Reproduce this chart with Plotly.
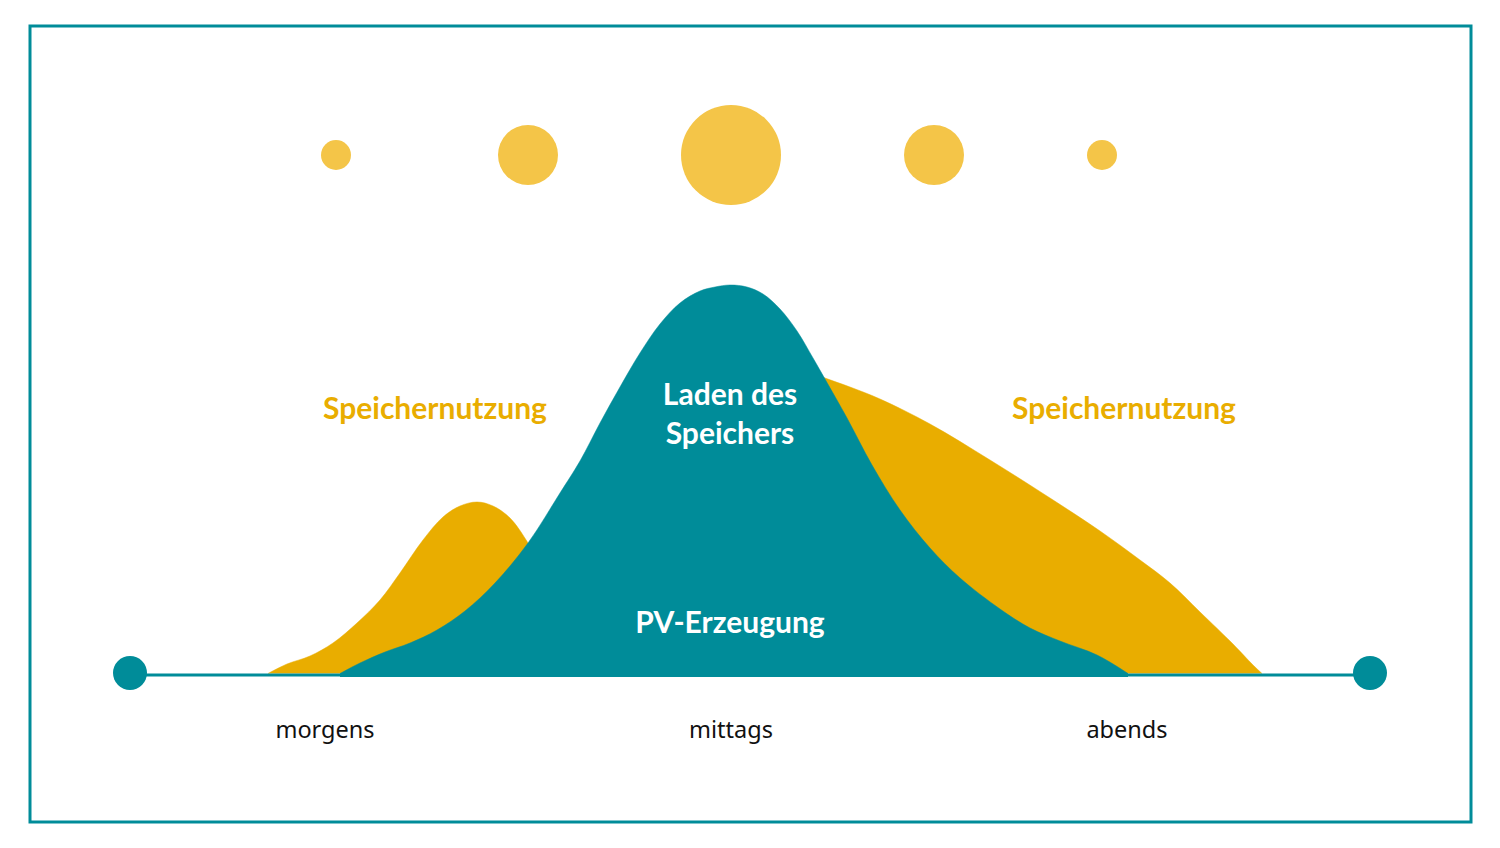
import plotly.graph_objects as go

TEAL = "#008C99"
GOLD = "#E9AD00"
SUN = "#F4C548"
W, H = 1500, 848

# Curve outlines (x position, y position)
morning_x = [268, 287, 310, 333, 357, 380, 400, 423, 443, 460, 477, 493, 510, 528, 545]
morning_y = [673.5, 664, 656, 643, 623, 600, 573, 540, 517, 506, 502, 506, 518, 543, 575]
morning_base = 673.5
evening_x = [810, 825, 850, 880, 930, 990, 1050, 1100, 1140, 1170, 1200, 1233, 1253, 1262]
evening_y = [372, 378, 387, 399, 424, 460, 498, 531, 560, 583, 612, 644, 665, 673.5]
evening_base = 673.5
pv_x = [340, 360, 385, 410, 437, 465, 495, 528, 560, 580, 600, 620, 640, 660, 680, 700, 715, 730, 747, 763, 780, 797, 813, 825, 847, 872, 900, 930, 960, 1000, 1030, 1060, 1097, 1128]
pv_y = [673.5, 663, 652, 643, 630, 611, 583, 543, 493, 461, 423, 387, 353, 324, 303, 291, 287, 285, 287, 294, 309, 331, 358, 379, 418, 465, 510, 548, 578, 609, 628, 641, 655, 673.5]
pv_base = 677

sun_x = [336, 528, 731, 934, 1102]
sun_y = [155, 155, 155, 155, 155]
sun_d = [30, 60, 100, 60, 30]

axis_x = [130, 1370]
axis_y = [675, 675]
end_x = [130, 1370]
end_y = [673, 673]
end_d = [34, 34]

time_labels = ["morgens", "mittags", "abends"]
time_x = [325, 731, 1127]
time_y = [732, 732, 732]

gold_labels = ["Speichernutzung", "Speichernutzung"]
gold_x = [435, 1124]
gold_y = [411, 411]

white_labels = ["Laden des<br>Speichers", "PV-Erzeugung"]
white_x = [730, 730]
white_y = [417, 625]

BOLD = "Lato, Roboto, sans-serif"
REG = "Noto Sans, sans-serif"


def area(fig, xs, ys, base, color):
    # flat baseline first, then the curve filled down to it
    fig.add_trace(go.Scatter(x=[xs[0], xs[-1]], y=[base, base], mode="lines",
                             line=dict(color=color, width=0),
                             hoverinfo="skip", showlegend=False))
    fig.add_trace(go.Scatter(x=xs, y=ys, mode="lines", fill="tonexty", fillcolor=color,
                             line=dict(color=color, width=0.5, shape="spline", smoothing=1.0),
                             hoverinfo="skip", showlegend=False))


fig = go.Figure()
area(fig, morning_x, morning_y, morning_base, GOLD)
area(fig, evening_x, evening_y, evening_base, GOLD)
fig.add_trace(go.Scatter(x=axis_x, y=axis_y, mode="lines",
                         line=dict(color=TEAL, width=3.2), showlegend=False, hoverinfo="skip"))
fig.add_trace(go.Scatter(x=end_x, y=end_y, mode="markers",
                         marker=dict(size=end_d, color=TEAL, opacity=1, line=dict(width=0)),
                         showlegend=False, hoverinfo="skip"))
area(fig, pv_x, pv_y, pv_base, TEAL)
fig.add_trace(go.Scatter(x=sun_x, y=sun_y, mode="markers",
                         marker=dict(size=sun_d, color=SUN, opacity=1, line=dict(width=0)),
                         showlegend=False, hoverinfo="skip"))
fig.add_trace(go.Scatter(x=time_x, y=time_y, mode="text", text=time_labels,
                         textfont=dict(family=REG, size=23.5, color="#111111"), showlegend=False, hoverinfo="skip"))
fig.add_trace(go.Scatter(x=gold_x, y=gold_y, mode="text", text=gold_labels,
                         textfont=dict(family=BOLD, size=30, color=GOLD, weight="bold"), showlegend=False, hoverinfo="skip"))
fig.add_trace(go.Scatter(x=white_x, y=white_y, mode="text", text=white_labels,
                         textfont=dict(family=BOLD, size=30, color="white", weight="bold"), showlegend=False, hoverinfo="skip"))

fig.update_layout(
    width=W, height=H, margin=dict(l=0, r=0, t=0, b=0), autosize=False,
    paper_bgcolor="white", plot_bgcolor="white",
    xaxis=dict(range=[0, W], visible=False, fixedrange=True),
    yaxis=dict(range=[H, 0], visible=False, fixedrange=True),
    shapes=[dict(type="rect", xref="x", yref="y", x0=30, x1=1471, y0=26, y1=822,
                 line=dict(color=TEAL, width=3), layer="below")],
)
fig.write_html("out.html", config={"displayModeBar": False},
               post_script="document.body.style.margin='0';document.documentElement.style.overflow='hidden';")
